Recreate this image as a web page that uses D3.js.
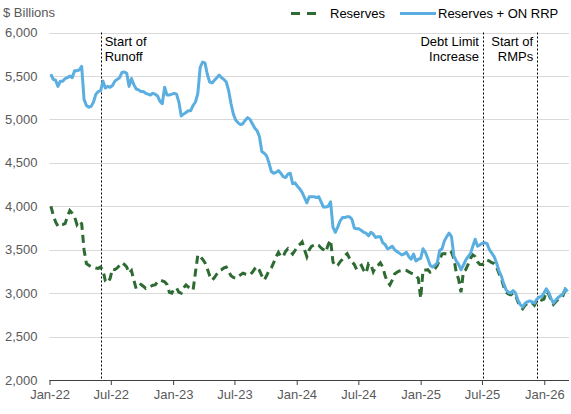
<!DOCTYPE html>
<html>
<head>
<meta charset="utf-8">
<script src="https://cdn.jsdelivr.net/npm/d3@7"></script>
<style>
  body { margin: 0; background: #fff; }
  svg { font-family: "Liberation Sans", Arial, sans-serif; }
</style>
</head>
<body>
<div id="chart"></div>
<script>
// weekly observations (Wednesdays), one month per line
var weeks = [
  "2022-01-05","2022-01-12","2022-01-19","2022-01-26",
  "2022-02-02","2022-02-09","2022-02-16","2022-02-23",
  "2022-03-02","2022-03-09","2022-03-16","2022-03-23","2022-03-30",
  "2022-04-06","2022-04-13","2022-04-20","2022-04-27",
  "2022-05-04","2022-05-11","2022-05-18","2022-05-25",
  "2022-06-01","2022-06-08","2022-06-15","2022-06-22","2022-06-29",
  "2022-07-06","2022-07-13","2022-07-20","2022-07-27",
  "2022-08-03","2022-08-10","2022-08-17","2022-08-24","2022-08-31",
  "2022-09-07","2022-09-14","2022-09-21","2022-09-28",
  "2022-10-05","2022-10-12","2022-10-19","2022-10-26",
  "2022-11-02","2022-11-09","2022-11-16","2022-11-23","2022-11-30",
  "2022-12-07","2022-12-14","2022-12-21","2022-12-28",
  "2023-01-04","2023-01-11","2023-01-18","2023-01-25",
  "2023-02-01","2023-02-08","2023-02-15","2023-02-22",
  "2023-03-01","2023-03-08","2023-03-15","2023-03-22","2023-03-29",
  "2023-04-05","2023-04-12","2023-04-19","2023-04-26",
  "2023-05-03","2023-05-10","2023-05-17","2023-05-24","2023-05-31",
  "2023-06-07","2023-06-14","2023-06-21","2023-06-28",
  "2023-07-05","2023-07-12","2023-07-19","2023-07-26",
  "2023-08-02","2023-08-09","2023-08-16","2023-08-23","2023-08-30",
  "2023-09-06","2023-09-13","2023-09-20","2023-09-27",
  "2023-10-04","2023-10-11","2023-10-18","2023-10-25",
  "2023-11-01","2023-11-08","2023-11-15","2023-11-22","2023-11-29",
  "2023-12-06","2023-12-13","2023-12-20","2023-12-27",
  "2024-01-03","2024-01-10","2024-01-17","2024-01-24","2024-01-31",
  "2024-02-07","2024-02-14","2024-02-21","2024-02-28",
  "2024-03-06","2024-03-13","2024-03-20","2024-03-27",
  "2024-04-03","2024-04-10","2024-04-17","2024-04-24",
  "2024-05-01","2024-05-08","2024-05-15","2024-05-22","2024-05-29",
  "2024-06-05","2024-06-12","2024-06-19","2024-06-26",
  "2024-07-03","2024-07-10","2024-07-17","2024-07-24","2024-07-31",
  "2024-08-07","2024-08-14","2024-08-21","2024-08-28",
  "2024-09-04","2024-09-11","2024-09-18","2024-09-25",
  "2024-10-02","2024-10-09","2024-10-16","2024-10-23","2024-10-30",
  "2024-11-06","2024-11-13","2024-11-20","2024-11-27",
  "2024-12-04","2024-12-11","2024-12-18","2024-12-25",
  "2025-01-01","2025-01-08","2025-01-15","2025-01-22","2025-01-29",
  "2025-02-05","2025-02-12","2025-02-19","2025-02-26",
  "2025-03-05","2025-03-12","2025-03-19","2025-03-26",
  "2025-04-02","2025-04-09","2025-04-16","2025-04-23","2025-04-30",
  "2025-05-07","2025-05-14","2025-05-21","2025-05-28",
  "2025-06-04","2025-06-11","2025-06-18","2025-06-25",
  "2025-07-02","2025-07-09","2025-07-16","2025-07-23","2025-07-30",
  "2025-08-06","2025-08-13","2025-08-20","2025-08-27",
  "2025-09-03","2025-09-10","2025-09-17","2025-09-24",
  "2025-10-01","2025-10-08","2025-10-15","2025-10-22","2025-10-29",
  "2025-11-05","2025-11-12","2025-11-19","2025-11-26",
  "2025-12-03","2025-12-10","2025-12-17","2025-12-24","2025-12-31",
  "2026-01-07","2026-01-14","2026-01-21","2026-01-28",
  "2026-02-04","2026-02-11","2026-02-18","2026-02-25",
  "2026-03-04","2026-03-11"
];

// $ billions
var reserves = [
  4000,3900,3820,3770,
  3790,3790,3800,3880,
  3950,3920,3880,3790,3830,
  3800,3500,3340,3320,
  3305,3300,3290,3285,
  3300,3260,3140,3120,3170,
  3280,3270,3290,3320,
  3350,3330,3300,3230,3260,
  3150,3050,3070,3100,
  3080,3055,3070,3075,
  3090,3095,3130,3150,3140,
  3130,3100,3010,3000,
  3050,3060,3010,3000,
  3060,3095,3070,3050,
  3035,3240,3440,3420,3390,
  3350,3280,3200,3150,
  3180,3220,3260,3270,3290,
  3300,3250,3200,3180,
  3170,3190,3210,3230,
  3220,3215,3210,3240,3280,
  3305,3260,3200,3150,
  3200,3260,3290,3350,
  3420,3470,3420,3420,3480,
  3510,3480,3450,3490,
  3535,3560,3590,3500,3420,
  3500,3540,3550,3565,
  3550,3520,3500,3475,
  3560,3610,3360,3310,
  3320,3360,3390,3430,3455,
  3400,3360,3330,3270,
  3300,3320,3260,3230,3340,
  3330,3245,3300,3320,
  3350,3300,3200,3130,
  3095,3150,3220,3240,3255,
  3260,3265,3260,3245,
  3230,3220,3200,3170,
  2940,3265,3265,3270,3240,
  3250,3280,3320,3390,
  3450,3455,3450,3440,
  3470,3400,3240,3160,3010,
  3240,3270,3330,3400,
  3440,3420,3360,3330,
  3330,3350,3380,3370,3350,
  3340,3300,3230,3170,
  3080,3010,2990,2980,
  3000,2980,2900,2840,2820,
  2860,2880,2890,2890,
  2860,2910,2930,2920,2930,
  3020,2990,2920,2870,
  2900,2930,2950,2970,
  3040,3010
];

var reservesPlusRrp = [
  5520,5460,5450,5380,
  5440,5440,5470,5480,
  5500,5480,5560,5560,5570,
  5610,5230,5160,5140,
  5150,5200,5290,5320,
  5330,5440,5360,5380,5370,
  5390,5440,5460,5480,
  5540,5545,5530,5380,5470,
  5400,5350,5340,5320,
  5320,5300,5290,5280,
  5300,5290,5270,5210,5180,
  5370,5280,5280,5290,
  5300,5290,5200,5040,
  5060,5080,5100,5100,
  5160,5200,5300,5600,5660,
  5650,5520,5430,5420,
  5450,5480,5510,5480,5460,
  5430,5330,5180,5060,
  4990,4960,4940,4950,
  4990,5020,5000,4950,4900,
  4870,4800,4630,4610,
  4580,4500,4400,4380,
  4390,4410,4380,4340,4330,
  4370,4380,4260,4270,
  4230,4200,4160,4100,4040,
  4110,4110,4110,4100,
  4110,4050,3990,3990,
  4000,4050,3760,3700,
  3760,3830,3870,3870,3880,
  3880,3850,3750,3740,
  3740,3720,3700,3690,3660,
  3700,3680,3640,3650,
  3650,3580,3560,3510,
  3520,3540,3500,3480,3460,
  3440,3450,3470,3420,
  3390,3450,3370,3390,
  3400,3510,3470,3400,3320,
  3300,3320,3350,3490,
  3510,3600,3650,3690,
  3650,3430,3370,3330,3270,
  3320,3380,3420,3455,
  3540,3620,3540,3555,
  3575,3580,3570,3500,3460,
  3420,3350,3260,3200,
  3110,3040,3010,3000,
  3030,3000,2920,2870,2840,
  2880,2900,2910,2900,
  2885,2930,2955,2960,3000,
  3050,3010,2940,2885,
  2920,2950,2970,2990,
  3050,3020
];

var yTicks = [2000, 2500, 3000, 3500, 4000, 4500, 5000, 5500, 6000];
var xTickDates = ["2022-01-01","2022-07-01","2023-01-01","2023-07-01","2024-01-01",
                  "2024-07-01","2025-01-01","2025-07-01","2026-01-01"];

var events = [
  {date: "2022-06-01", lines: ["Start of", "Runoff"], side: "right"},
  {date: "2025-07-04", lines: ["Debt Limit", "Increase"], side: "left"},
  {date: "2025-12-11", lines: ["Start of", "RMPs"], side: "left"}
];

var svgWidth = 571;
var svgHeight = 414;
var plotLeft = 49.5;
var plotRight = 569;
var plotTop = 32.5;
var plotBottom = 380;

var parse = d3.timeParse("%Y-%m-%d");
var fmt = d3.timeFormat("%b-%y");

var xScale = d3.scaleTime()
    .domain([parse("2022-01-01"), parse("2026-03-15")])
    .range([plotLeft, plotRight]);
var yScale = d3.scaleLinear()
    .domain([2000, 6000])
    .range([plotBottom, plotTop]);

var svg = d3.select("#chart")
    .append("svg")
    .attr("width", svgWidth)
    .attr("height", svgHeight);

// gridlines
svg.append("g")
    .selectAll("line")
    .data(yTicks.slice(1))
    .enter()
    .append("line")
    .attr("x1", plotLeft)
    .attr("x2", plotRight)
    .attr("y1", d => Math.round(yScale(d)) + 0.5)
    .attr("y2", d => Math.round(yScale(d)) + 0.5)
    .attr("stroke", "#d9d9d9")
    .attr("stroke-width", 1);

// y labels
var yAxisCall = d3.axisLeft(yScale)
    .tickValues(yTicks)
    .tickSize(0)
    .tickPadding(12)
    .tickFormat(d3.format(","));
var yAxisGroup = svg.append("g")
    .attr("transform", `translate(${plotLeft},0)`)
    .call(yAxisCall);
yAxisGroup.select(".domain").remove();
yAxisGroup.selectAll("text")
    .attr("font-size", "13px")
    .attr("font-family", "Liberation Sans, Arial, sans-serif")
    .attr("fill", "#595959");

// x axis
var xAxisCall = d3.axisBottom(xScale)
    .tickValues(xTickDates.map(parse))
    .tickSize(5)
    .tickPadding(5)
    .tickFormat(fmt);
var xAxisGroup = svg.append("g")
    .attr("transform", `translate(0,${plotBottom})`)
    .call(xAxisCall);
xAxisGroup.select(".domain")
    .attr("d", `M${plotLeft},0.5H${plotRight}`)
    .attr("stroke", "#404040");
xAxisGroup.selectAll(".tick line").attr("stroke", "#404040");
xAxisGroup.selectAll("text")
    .attr("font-size", "13px")
    .attr("font-family", "Liberation Sans, Arial, sans-serif")
    .attr("fill", "#595959");

// event markers
var ev = svg.append("g").selectAll("g")
    .data(events)
    .enter()
    .append("g");
ev.append("line")
    .attr("x1", d => Math.round(xScale(parse(d.date))) + 0.5)
    .attr("x2", d => Math.round(xScale(parse(d.date))) + 0.5)
    .attr("y1", plotTop)
    .attr("y2", plotBottom)
    .attr("stroke", "#000")
    .attr("stroke-width", 1)
    .attr("stroke-dasharray", "2,2");
ev.each(function(d) {
    var x = xScale(parse(d.date));
    var t = d3.select(this).append("text")
        .attr("font-size", "13px")
        .attr("fill", "#000")
        .attr("text-anchor", d.side == "right" ? "start" : "end");
    d.lines.forEach((s, i) => {
        t.append("tspan")
            .attr("x", d.side == "right" ? x + 4 : x - 4)
            .attr("y", 46 + i * 14.5)
            .text(s);
    });
});

// series
var line = d3.line()
    .x((d, i) => xScale(parse(weeks[i])))
    .y(d => yScale(d));

svg.append("path")
    .datum(reserves)
    .attr("d", line)
    .attr("fill", "none")
    .attr("stroke", "#2e6b32")
    .attr("stroke-width", 3)
    .attr("stroke-dasharray", "8,5");

svg.append("path")
    .datum(reservesPlusRrp)
    .attr("d", line)
    .attr("fill", "none")
    .attr("stroke", "#5aaee0")
    .attr("stroke-width", 3)
    .attr("stroke-linejoin", "round");

// title
svg.append("text")
    .attr("x", 3)
    .attr("y", 17)
    .text("$ Billions")
    .attr("font-size", "13px")
    .attr("fill", "#595959");

// legend
var legend = svg.append("g");
legend.append("line")
    .attr("x1", 291).attr("x2", 322)
    .attr("y1", 13.5).attr("y2", 13.5)
    .attr("stroke", "#2e6b32")
    .attr("stroke-width", 3)
    .attr("stroke-dasharray", "9,7");
legend.append("text")
    .attr("x", 330).attr("y", 18)
    .text("Reserves")
    .attr("font-size", "13px")
    .attr("fill", "#000");
legend.append("line")
    .attr("x1", 400).attr("x2", 436)
    .attr("y1", 13.5).attr("y2", 13.5)
    .attr("stroke", "#5aaee0")
    .attr("stroke-width", 3);
legend.append("text")
    .attr("x", 438).attr("y", 18)
    .text("Reserves + ON RRP")
    .attr("font-size", "13px")
    .attr("fill", "#000");
</script>
</body>
</html>
